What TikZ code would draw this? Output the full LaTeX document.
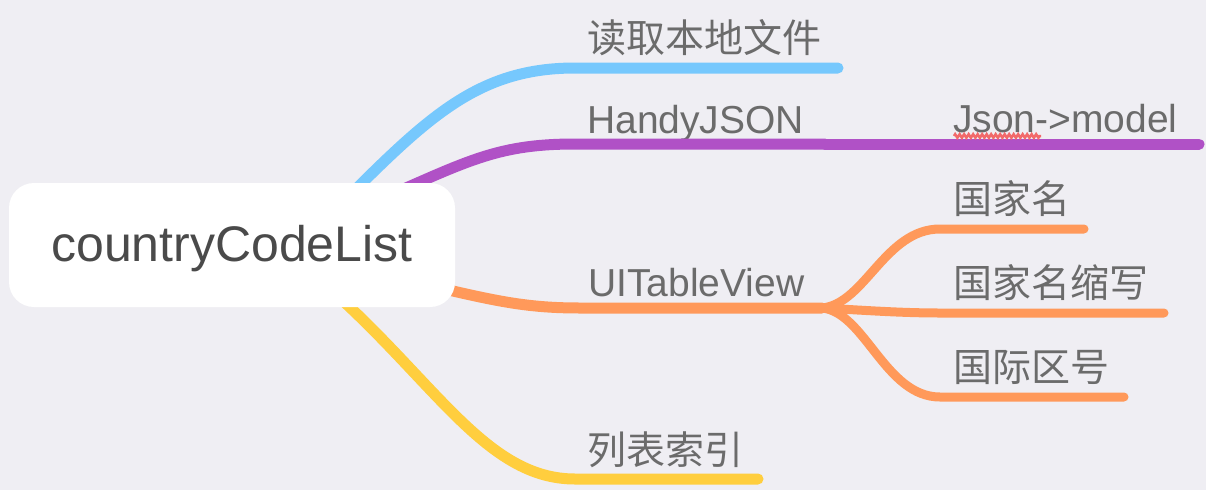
\documentclass[tikz,border=0pt]{standalone}
\usepackage{fontspec}
\setmainfont{Liberation Sans}
\newfontfamily\cjk{Noto Sans CJK SC}
\usetikzlibrary{decorations.pathmorphing}
\definecolor{bgcol}{HTML}{EFEEF3}
\definecolor{rootgray}{HTML}{4A4A4A}
\definecolor{labelgray}{HTML}{6B6B6B}
\definecolor{bluebr}{HTML}{76C8FD}
\definecolor{purplebr}{HTML}{B051C6}
\definecolor{orangebr}{HTML}{FF995A}
\definecolor{yellowbr}{HTML}{FFCE3E}
\definecolor{spellred}{HTML}{F26A6A}

\begin{document}
\begin{tikzpicture}[x=1pt,y=-1pt]
    \tikzset{branch/.style={line width=11pt,line cap=round},twig/.style={line width=9pt,line cap=round}}
    \tikzset{lbl/.style={anchor=base west,inner sep=0pt,text=labelgray,font=\fontsize{39}{39}\selectfont},cjklbl/.style={lbl,font=\fontsize{39}{39}\selectfont\cjk}}
    \fill[bgcol] (0,0) rectangle (1206,490);
    \useasboundingbox (0,0) rectangle (1206,490);
    % start points on the root box and the fork behind UITableView
    \coordinate (rb) at (345,200);
    \coordinate (rp) at (390,195);
    \coordinate (ro) at (440,288);
    \coordinate (ry) at (340,298);
    \coordinate (fork) at (822,308);
    % labels
    \node[cjklbl] (read) at (587,52) {读取本地文件};
    \node[lbl] (handy) at (587,133) {HandyJSON};
    \node[lbl] (json) at (953,132) {Json->model};
    \node[lbl] (table) at (588,296) {UITableView};
    \node[cjklbl] (name) at (953,213) {国家名};
    \node[cjklbl] (abbr) at (953,297) {国家名缩写};
    \node[cjklbl] (code) at (953,381) {国际区号};
    \node[cjklbl] (index) at (587,464) {列表索引};
    % branches
    \draw[branch,bluebr] (rb) .. controls (430,115) and (480,68) .. (575,68) -- (838,68);
    \draw[branch,purplebr] (rp) .. controls (470,160) and (500,144) .. (575,144) -- (825,144);
    \draw[branch,purplebr] (825,144) -- (1199,144);
    \draw[branch,orangebr] (ro) .. controls (500,302) and (530,308) .. (580,308) -- (fork);
    \draw[twig,orangebr] (fork) .. controls (865,304) and (885,229) .. (940,229) -- (1084,229);
    \draw[twig,orangebr] (fork) .. controls (860,310) and (900,313) .. (940,313) -- (1164,313);
    \draw[twig,orangebr] (fork) .. controls (865,312) and (885,397) .. (940,397) -- (1124,397);
    \draw[branch,yellowbr] (ry) .. controls (440,390) and (490,479) .. (575,479) -- (758,479);
    % spell check mark under Json
    \draw[spellred,line width=2.5pt,decorate,decoration={zigzag,segment length=4.5pt,amplitude=1.8pt}] (954,136) -- (1041,136);
    % root
    \node[fill=white,rounded corners=25pt,minimum width=446pt,minimum height=124pt,inner sep=0pt,text height=43pt,text depth=10.5pt,text=rootgray,font=\fontsize{50}{50}\selectfont] (root) at (232,245) {countryCodeList};
\end{tikzpicture}
\end{document}
